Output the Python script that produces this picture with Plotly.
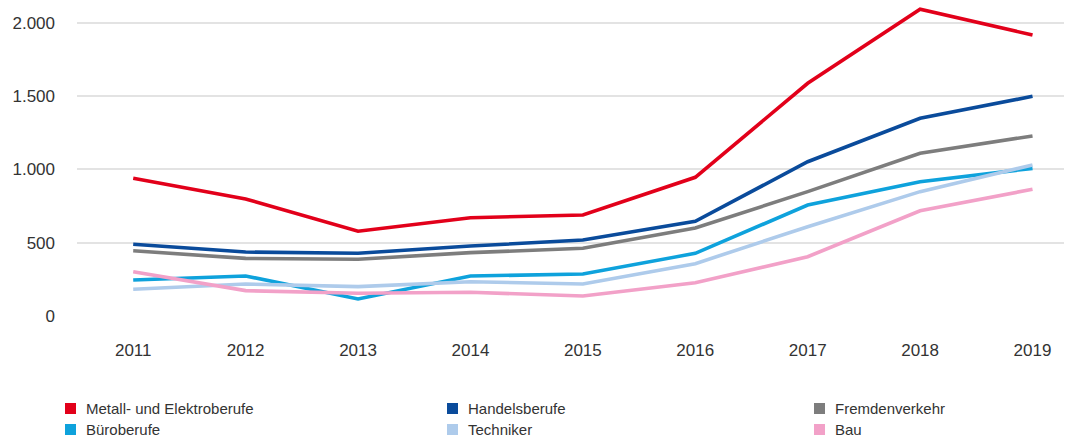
import plotly.graph_objects as go

years = [2011, 2012, 2013, 2014, 2015, 2016, 2017, 2018, 2019]

metall_elektro = [939, 798, 578, 670, 689, 946, 1587, 2092, 1916]
handel = [489, 436, 428, 477, 518, 646, 1052, 1348, 1498]
fremdenverkehr = [445, 393, 387, 432, 462, 600, 848, 1110, 1228]
buero = [246, 273, 116, 273, 286, 427, 757, 916, 1007]
techniker = [182, 218, 200, 234, 218, 357, 609, 848, 1030]
bau = [302, 173, 155, 162, 136, 227, 404, 718, 864]

series_names = [
    "Metall- und Elektroberufe",
    "Handelsberufe",
    "Fremdenverkehr",
    "Büroberufe",
    "Techniker",
    "Bau",
]
series_values = [metall_elektro, handel, fremdenverkehr, buero, techniker, bau]
series_colors = ["#e2001a", "#0a4b9b", "#7d7d7d", "#0ea2dc", "#aecbeb", "#f2a1c8"]

y_ticks = [0, 500, 1000, 1500, 2000]

W, H = 1065, 446
M_L, M_R, M_T, M_B = 77, 1, 0, 130
PLOT_W = W - M_L - M_R
PLOT_H = H - M_T - M_B


def px_to_paper_x(px):
    return (px - M_L) / PLOT_W


def px_to_paper_y(py):
    return (H - M_B - py) / PLOT_H


fig = go.Figure()

for name, vals, col in zip(series_names, series_values, series_colors):
    fig.add_trace(go.Scatter(
        x=years, y=vals, mode="lines", name=name,
        line=dict(color=col, width=3.6),
        showlegend=False, hoverinfo="skip",
    ))

# legend: square swatch + label, three columns by two rows
legend_cols = [65, 447, 814]
legend_rows = [408.5, 429.5]
swatch = 11
for i, (name, col) in enumerate(zip(series_names, series_colors)):
    cx = legend_cols[i % 3]
    cy = legend_rows[i // 3]
    fig.add_shape(
        type="rect", xref="paper", yref="paper",
        x0=px_to_paper_x(cx), x1=px_to_paper_x(cx + swatch),
        y0=px_to_paper_y(cy + swatch / 2), y1=px_to_paper_y(cy - swatch / 2),
        fillcolor=col, line=dict(width=0),
    )
    fig.add_annotation(
        xref="paper", yref="paper",
        x=px_to_paper_x(cx + swatch + 8), y=px_to_paper_y(cy),
        xanchor="left", yanchor="middle", showarrow=False,
        text=name, font=dict(size=15, color="#333333"),
    )

fig.update_layout(
    width=W, height=H,
    margin=dict(l=M_L, r=M_R, t=M_T, b=M_B, autoexpand=False),
    paper_bgcolor="white", plot_bgcolor="white",
    separators=",.",
    showlegend=False,
    font=dict(family="Liberation Sans, Arial, sans-serif", color="#333333"),
    xaxis=dict(
        range=[2010.5, 2019.28], tickvals=years, ticktext=[str(y) for y in years],
        showgrid=False, zeroline=False, showline=False,
        tickfont=dict(size=17, color="#333333"),
        ticklabelstandoff=22,
    ),
    yaxis=dict(
        range=[0, 2155], tickvals=y_ticks, tickformat=",d",
        showgrid=True, gridcolor="#e3e3e3", gridwidth=1.5,
        zeroline=False, showline=False,
        tickfont=dict(size=17, color="#333333"),
        ticklabelstandoff=21,
    ),
)

fig.write_html("out.html")
